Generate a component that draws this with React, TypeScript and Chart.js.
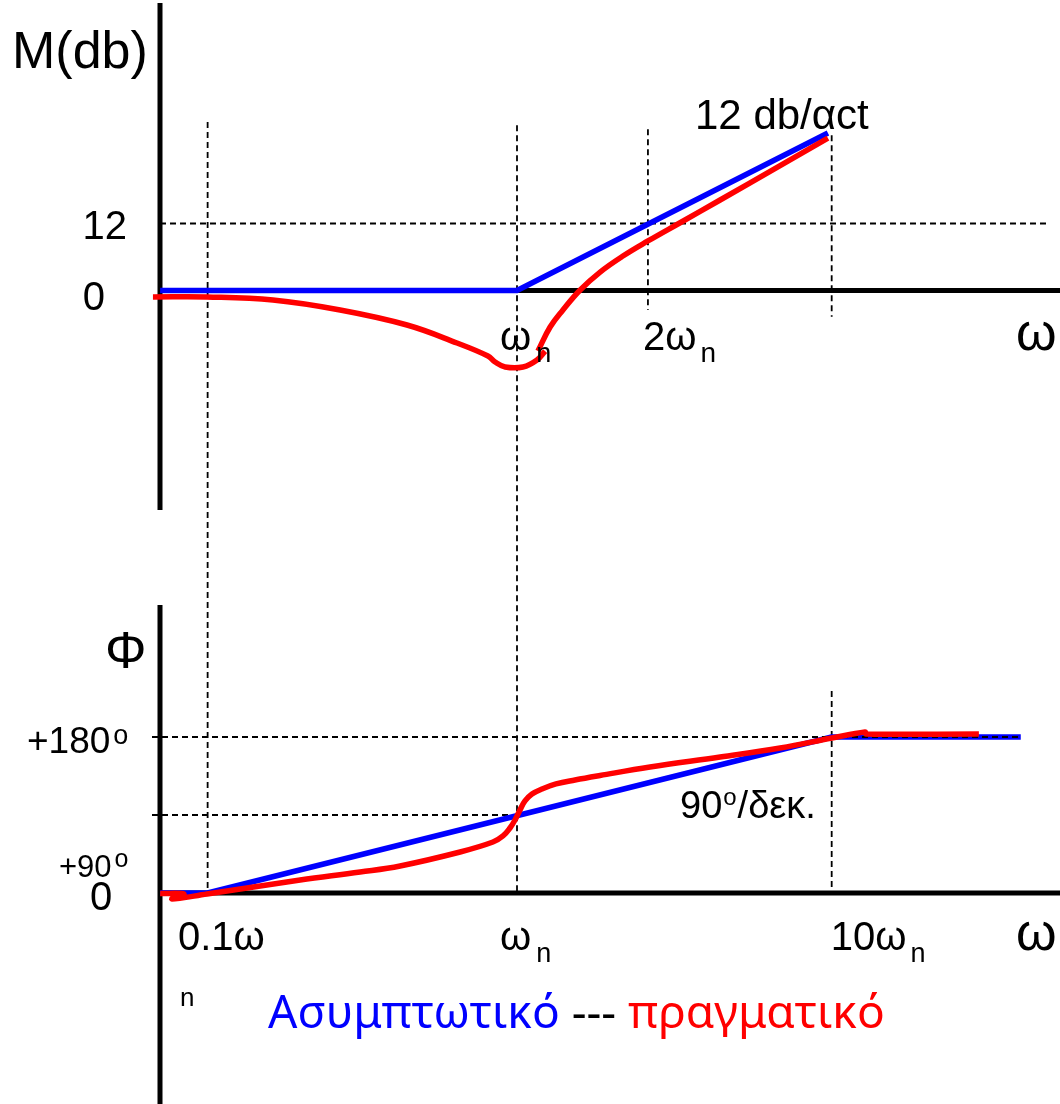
import React, { useEffect, useRef } from "react";
import { Chart, registerables } from "chart.js";

Chart.register(...registerables);

// x values are log10(ω/ωn)
const X_MIN = -1.1424;
const X_MAX = 1.7376;
const MAG_MIN = -56.33;
const MAG_MAX = 51.14;
const PH_MIN = -243.46;
const PH_MAX = 332.3;

// Magnitude (dB)
const magAsymX = [-1.142, 0, 0.995];
const magAsymY = [0, 0, 28.2];
// actual magnitude: dip part and rising part (the hand-drawn hook joins them)
const magDipX = [-1.165, -0.992, -0.781, -0.566, -0.352, -0.192, -0.093, -0.07, -0.038, 0.019, 0.064, 0.09];
const magDipY = [-1.16, -1.16, -1.7, -3.49, -6.18, -9.4, -11.73, -12.81, -13.7, -13.7, -12.45, -10.84];
const magRiseX = [0.067, 0.106, 0.147, 0.202, 0.266, 0.339, 0.419, 0.522, 0.65, 0.842, 0.995];
const magRiseY = [-10.84, -6.54, -3.49, 0.09, 3.31, 6.18, 8.87, 12.14, 16.21, 22.39, 27.31];

// Phase (degrees)
const phaseAsymX = [-1.142, -0.99, 1.007, 1.612];
const phaseAsymY = [0, 0, 180, 180];
const phaseRealX = [-1.142, -1.066, -1.104, -0.992, -0.694, -0.502, -0.374, -0.182, -0.077, -0.0448, -0.0224, -0.0064, 0.0096, 0.0256, 0.048, 0.08, 0.1248, 0.1856, 0.2656, 0.4256, 0.65, 0.842, 1.008, 1.114, 1.117, 1.478];
const phaseRealY = [-0.6, -1.2, -6.9, -1.2, 15.0, 24.2, 31.2, 47.3, 58.8, 65.8, 75.0, 84.2, 95.8, 106.2, 114.2, 120.0, 125.8, 130.4, 135.6, 145.4, 156.9, 167.3, 178.8, 185.8, 183.5, 183.5];

// Reference marks
const decadeMarks = [-0.99, 0, 1.007]; // 0.1ωn, ωn, 10ωn
const octaveMark = 0.419; // 2ωn
const magTicks = ["12", "0"];
const magTickValues = [12, 0];
const phaseTickValues = [180, 90, 0];

const BLUE = "#0000ff";
const RED = "#ff0000";
const FONT = '"Liberation Sans", Arial, sans-serif';
const LEGEND_FONT = '"Noto Sans", "DejaVu Sans", sans-serif';

const zip = (xs: number[], ys: number[]) => xs.map((x, i) => ({ x, y: ys[i] }));

function line(ctx: CanvasRenderingContext2D, x1: number, y1: number, x2: number, y2: number) {
  ctx.beginPath();
  ctx.moveTo(x1, y1);
  ctx.lineTo(x2, y2);
  ctx.stroke();
}

function txt(ctx: CanvasRenderingContext2D, s: string, x: number, y: number, size: number, color = "#000", align: CanvasTextAlign = "left", family = FONT) {
  ctx.font = `${size}px ${family}`;
  ctx.fillStyle = color;
  ctx.textAlign = align;
  ctx.textBaseline = "alphabetic";
  ctx.fillText(s, x, y);
  return ctx.measureText(s).width;
}

function withSub(ctx: CanvasRenderingContext2D, main: string, sub: string, x: number, y: number, size: number, subSize: number, gap: number, dy: number) {
  const w = txt(ctx, main, x, y, size);
  txt(ctx, sub, x + w + gap, y + dy, subSize);
}

const DASH = [6, 4];

const bodePlugin = {
  id: "bode",
  beforeDatasetsDraw(chart: any) {
    const ctx: CanvasRenderingContext2D = chart.ctx;
    const xs = chart.scales.x;
    const m = chart.scales.yMag;
    const p = chart.scales.yPhase;
    const X = (v: number) => xs.getPixelForValue(v);
    ctx.save();
    ctx.strokeStyle = "#000";
    ctx.lineWidth = 5;
    // magnitude axes
    line(ctx, xs.left, m.getPixelForValue(MAG_MAX) - 2, xs.left, m.getPixelForValue(-39.3));
    line(ctx, xs.left, m.getPixelForValue(0), xs.right, m.getPixelForValue(0));
    // phase axes
    line(ctx, xs.left, p.getPixelForValue(PH_MAX), xs.left, p.getPixelForValue(PH_MIN));
    line(ctx, xs.left, p.getPixelForValue(0), xs.right, p.getPixelForValue(0));

    ctx.lineWidth = 1.8;
    ctx.setLineDash(DASH);
    // 12 dB reference
    line(ctx, xs.left, m.getPixelForValue(12), X(1.699), m.getPixelForValue(12));
    // long verticals 0.1ωn and ωn spanning both plots
    line(ctx, X(decadeMarks[0]), m.getPixelForValue(30.2), X(decadeMarks[0]), p.getPixelForValue(0));
    line(ctx, X(decadeMarks[1]), m.getPixelForValue(29.6), X(decadeMarks[1]), p.getPixelForValue(0));
    // 2ωn and 10ωn in magnitude plot
    line(ctx, X(octaveMark), m.getPixelForValue(28.9), X(octaveMark), m.getPixelForValue(-3.5));
    line(ctx, X(decadeMarks[2]), m.getPixelForValue(27.8), X(decadeMarks[2]), m.getPixelForValue(-4.7));
    // 10ωn in phase plot
    line(ctx, X(decadeMarks[2]), p.getPixelForValue(233), X(decadeMarks[2]), p.getPixelForValue(0));
    // 90° reference
    line(ctx, xs.left - 8, p.getPixelForValue(90), X(0), p.getPixelForValue(90));
    ctx.restore();
  },
  afterDatasetDraw(chart: any, args: any) {
    if (args.index !== 3) return;
    const ctx: CanvasRenderingContext2D = chart.ctx;
    const xs = chart.scales.x;
    const p = chart.scales.yPhase;
    ctx.save();
    ctx.strokeStyle = "#000";
    ctx.lineWidth = 1.8;
    ctx.setLineDash(DASH);
    line(ctx, xs.left - 8, p.getPixelForValue(180), xs.getPixelForValue(1.612), p.getPixelForValue(180));
    ctx.restore();
  },
  afterDraw(chart: any) {
    const ctx: CanvasRenderingContext2D = chart.ctx;
    const xs = chart.scales.x;
    const m = chart.scales.yMag;
    const p = chart.scales.yPhase;
    const X = (v: number) => xs.getPixelForValue(v);
    ctx.save();
    // ---- magnitude plot text
    txt(ctx, "M(db)", 12, 68, 52);
    magTicks.forEach((t, i) => {
      txt(ctx, t, t === "0" ? 105 : 127, m.getPixelForValue(magTickValues[i]) + (t === "0" ? 19.5 : 15), 40, "#000", "right");
    });
    txt(ctx, "12 db/\u03b1ct", 695, 129, 42);
    withSub(ctx, "\u03c9", "n", X(decadeMarks[1]) - 17, 350, 40, 27, 5, 12);
    withSub(ctx, "2\u03c9", "n", X(octaveMark) - 5, 350, 40, 28, 4, 12);
    txt(ctx, "\u03c9", 1016, 350, 52);

    // ---- phase plot text
    txt(ctx, "\u03a6", 105, 668, 52);
    const w180 = txt(ctx, "+180", 27, p.getPixelForValue(phaseTickValues[0]) + 16, 37);
    txt(ctx, "o", 27 + w180 + 3, p.getPixelForValue(phaseTickValues[0]) + 7, 27);
    const w90 = txt(ctx, "+90", 59, 877, 31);
    txt(ctx, "o", 59 + w90 + 3, 867, 25);
    txt(ctx, "0", 90, p.getPixelForValue(phaseTickValues[2]) + 17, 40);

    txt(ctx, "0.1\u03c9", 178, 950, 40);
    txt(ctx, "n", 180, 1006, 26);
    withSub(ctx, "\u03c9", "n", X(decadeMarks[1]) - 17, 950, 40, 27, 5, 12);
    withSub(ctx, "10\u03c9", "n", X(decadeMarks[2]) - 1, 950, 40, 27, 4, 12);
    txt(ctx, "\u03c9", 1016, 950, 52);

    const w90b = txt(ctx, "90", 680, 818, 38);
    const wo = txt(ctx, "o", 680 + w90b + 1, 805, 24);
    txt(ctx, "/\u03b4\u03b5\u03ba.", 680 + w90b + wo + 2, 818, 38);

    // ---- legend text
    const parts: [string, string][] = [["\u0391\u03c3\u03c5\u03bc\u03c0\u03c4\u03c9\u03c4\u03b9\u03ba\u03cc", BLUE], [" --- ", "#000"], ["\u03c0\u03c1\u03b1\u03b3\u03bc\u03b1\u03c4\u03b9\u03ba\u03cc", RED]];
    ctx.font = `40px ${LEGEND_FONT}`;
    const total = parts.reduce((a, [s]) => a + ctx.measureText(s).width, 0);
    const size = (40 * 617) / total;
    let lx = 268;
    for (const [s, c] of parts) {
      lx += txt(ctx, s, lx, 1028, size, c, "left", LEGEND_FONT);
    }
    ctx.restore();
  },
};

export default function App() {
  const ref = useRef<HTMLCanvasElement>(null);
  useEffect(() => {
    const canvas = ref.current!;
    const base = { borderWidth: 5.5, pointRadius: 0, clip: false, borderJoinStyle: "round" };
    const chart = new Chart(canvas, {
      type: "line",
      data: {
        datasets: [
          { ...base, label: "magAsym", data: zip(magAsymX, magAsymY), yAxisID: "yMag", borderColor: BLUE, order: 2, tension: 0 } as any,
          { ...base, label: "magRealDip", data: zip(magDipX, magDipY), yAxisID: "yMag", borderColor: RED, order: 1, tension: 0.4 } as any,
          { ...base, label: "magRealRise", data: zip(magRiseX, magRiseY), yAxisID: "yMag", borderColor: RED, order: 1, tension: 0.4 } as any,
          { ...base, label: "phaseAsym", data: zip(phaseAsymX, phaseAsymY), yAxisID: "yPhase", borderColor: BLUE, order: 2, tension: 0 } as any,
          { ...base, label: "phaseReal", data: zip(phaseRealX, phaseRealY), yAxisID: "yPhase", borderColor: RED, order: 1, tension: 0.4 } as any,
        ],
      },
      options: {
        responsive: false,
        animation: false,
        devicePixelRatio: 1,
        events: [],
        layout: { padding: { left: 160, top: 5, right: 0, bottom: 0 } },
        plugins: { legend: { display: false }, tooltip: { enabled: false } },
        scales: {
          x: { type: "linear", min: X_MIN, max: X_MAX, display: false },
          yPhase: { type: "linear", position: "left", stack: "bode", stackWeight: 499, min: PH_MIN, max: PH_MAX, display: false },
          yMag: { type: "linear", position: "left", stack: "bode", stackWeight: 600, min: MAG_MIN, max: MAG_MAX, display: false },
        },
      } as any,
      plugins: [bodePlugin],
    });
    return () => chart.destroy();
  }, []);
  return (
    <div style={{ position: "absolute", left: 0, top: 0, width: 1060, height: 1104, background: "#fff" }}>
      <canvas ref={ref} width={1060} height={1104} style={{ display: "block" }} />
    </div>
  );
}
